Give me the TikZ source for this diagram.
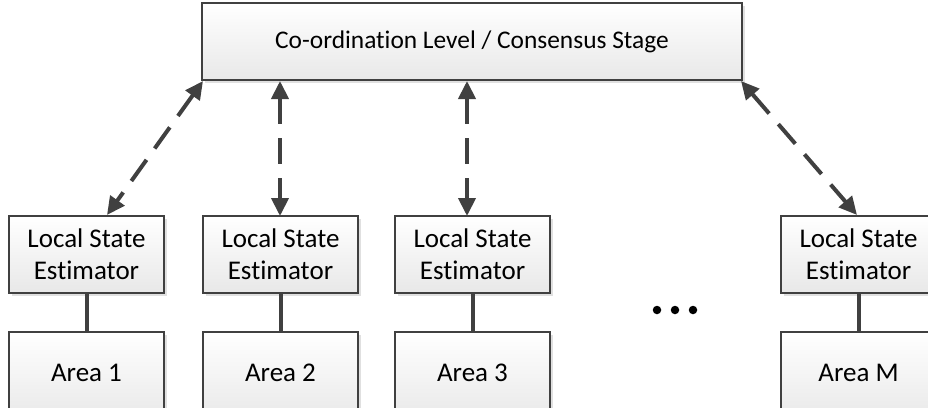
\documentclass[tikz,border=0pt]{standalone}
\usepackage{fontspec}
\setmainfont{Carlito}[Ligatures=NoCommon]
\usetikzlibrary{arrows.meta,shadows}
\definecolor{edge}{HTML}{404040}
\tikzset{
  block/.style={draw=edge, line width=1.4pt, top color=white, bottom color=black!9,
    drop shadow={shadow xshift=3pt, shadow yshift=-3pt, fill=black!12, opacity=1},
    inner sep=0pt, outer sep=0pt, align=center, font=\fontsize{27}{32}\selectfont},
  link/.style={draw=edge, line width=4pt, dash pattern=on 26pt off 14pt,
    {Triangle[length=18pt,width=17pt]}-{Triangle[length=18pt,width=17pt]}},
  wire/.style={draw=edge, line width=4pt},
  dot/.style={circle, fill=black, inner sep=0pt, minimum size=8.5pt}
}
\begin{document}
\begin{tikzpicture}[x=1pt,y=-1pt]
\useasboundingbox (0,0) rectangle (928,407);
\begin{scope}
\clip (0,0) rectangle (928,407);
% co-ordination level
\node[block, minimum width=540pt, minimum height=77pt, font=\fontsize{25.4}{32}\selectfont]
  (top) at (472,41.5) {Co-ordination Level / Consensus Stage};
\coordinate (tl) at (203,81);
\coordinate (tr) at (741,81);
\coordinate (t2) at (280,81);
\coordinate (t3) at (467,81);
% local estimators and areas
\foreach \i/\x/\name in {1/86.5/1, 2/280.5/2, 3/472.5/3, 4/858.5/M}{
  \node[block, minimum width=155pt, minimum height=77pt] (lse\i) at (\x,254.5)
    {Local State\\Estimator};
  \node[block, minimum width=155pt, minimum height=90pt, text depth=0pt] (area\i) at (\x,377)
    {\raisebox{9pt}{Area \name}};
  \draw[wire] (lse\i.south) -- (area\i.north);
}
\coordinate (b1) at (107,215);
\coordinate (b4) at (857,215);
% links to the co-ordination level
\draw[link] (tl) -- (b1);
\draw[link] (t2) -- (lse2.north -| t2);
\draw[link] (t3) -- (lse3.north -| t3);
\draw[link] (tr) -- (b4);
% ellipsis
\node[dot] (d1) at (657,310) {};
\node[dot] (d2) at (675,310) {};
\node[dot] (d3) at (693,310) {};
\end{scope}
\end{tikzpicture}
\end{document}
